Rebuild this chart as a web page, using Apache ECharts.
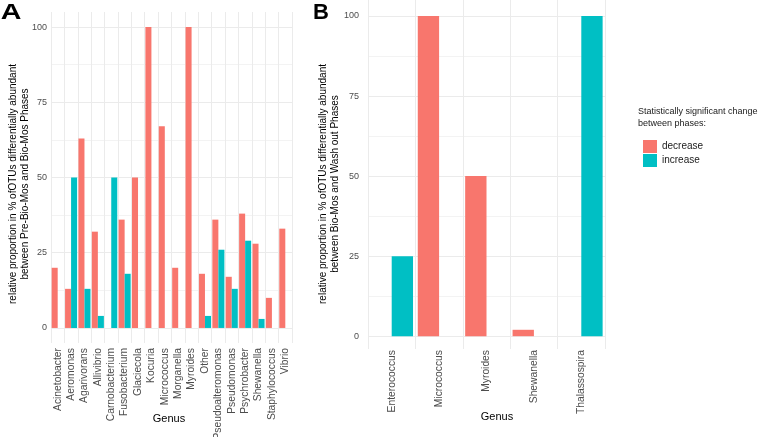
<!DOCTYPE html>
<html>
<head>
<meta charset="utf-8">
<script src="https://cdn.jsdelivr.net/npm/echarts@6/dist/echarts.min.js"></script>
<style>
  html, body { margin: 0; padding: 0; background: #fff; }
  #chart { width: 760px; height: 437px; }
</style>
</head>
<body>
<div id="chart"></div>
<script>
// panel A: Pre-Bio-Mos vs Bio-Mos
var genusA = ['Acinetobacter', 'Aeromonas', 'Agarivorans', 'Allivibrio', 'Carnobacterium', 'Fusobacterium',
  'Glaciecola', 'Kocuria', 'Micrococcus', 'Morganella', 'Myroides', 'Other', 'Pseudoalteromonas',
  'Pseudomonas', 'Psychrobacter', 'Shewanella', 'Staphylococcus', 'Vibrio'];
var decreaseA = [20, 13, 63, 32, '-', 36, 50, 100, 67, 20, 100, 18, 36, 17, 38, 28, 10, 33];
var increaseA = ['-', 50, 13, 4, 50, 18, '-', '-', '-', '-', '-', 4, 26, 13, 29, 3, '-', '-'];

// panel B: Bio-Mos vs Wash out
var genusB = ['Enterococcus', 'Micrococcus', 'Myroides', 'Shewanella', 'Thalassospira'];
var decreaseB = ['-', 100, 50, 2, '-'];
var increaseB = [25, '-', '-', '-', 100];

var yLabels = [0, 25, 50, 75, 100];
var yGrid = [0, 12.5, 25, 37.5, 50, 62.5, 75, 87.5, 100];

var font = 'Liberation Sans, Arial, sans-serif';
var grey = '#4D4D4D';
var colDec = '#F8766D';
var colInc = '#00BFC4';

var chartDom = document.getElementById('chart');
var myChart = echarts.init(chartDom);

function xAxisFor(idx, data, margin) {
    return {
        type: 'category',
        gridIndex: idx,
        data: data,
        axisLine: { show: false },
        axisTick: { show: false },
        axisLabel: { interval: 0, rotate: 90, fontFamily: font, fontSize: 10.3, color: grey, margin: margin },
        splitLine: { show: true, lineStyle: { color: '#EBEBEB', width: 1 } }
    };
}

function yAxisFor(idx, lo, margin) {
    return {
        type: 'value',
        gridIndex: idx,
        min: lo,
        max: 105,
        axisLine: { show: false },
        axisTick: { show: false, customValues: yGrid },
        axisLabel: { customValues: yLabels, fontFamily: font, fontSize: 9, color: grey, margin: margin },
        // major / minor lines alternate
        splitLine: { show: true, lineStyle: { color: ['#EBEBEB', '#F3F3F3'], width: 1 } }
    };
}

function barSeries(name, color, xi, data) {
    return {
        name: name,
        type: 'bar',
        xAxisIndex: xi,
        yAxisIndex: xi,
        data: data,
        barWidth: '45%',
        barGap: '0%',
        itemStyle: { color: color },
        emphasis: { disabled: true }
    };
}

function plainText(txt, x, y, size, opts) {
    return Object.assign({
        type: 'text',
        x: x,
        y: y,
        style: {
            text: txt,
            fontFamily: font,
            fontSize: size,
            fill: '#000',
            align: 'center',
            verticalAlign: 'middle',
            lineHeight: 12
        }
    }, opts || {});
}

var option = {
    animation: false,
    backgroundColor: '#fff',
    title: [{
        text: 'Statistically significant change\nbetween phases:',
        left: 633, top: 101,
        textStyle: { fontFamily: font, fontSize: 9, fontWeight: 'normal', color: '#1A1A1A', lineHeight: 12 }
    }],
    legend: {
        data: ['decrease', 'increase'],
        orient: 'vertical',
        left: 638,
        top: 135,
        icon: 'rect',
        itemWidth: 14,
        itemHeight: 13,
        itemGap: 1,
        selectedMode: false,
        textStyle: { fontFamily: font, fontSize: 10, color: '#1A1A1A' }
    },
    graphic: [
        { type: 'text', x: 11, y: 13, scaleX: 1.3, originX: 0, originY: 0,
          style: { text: 'A', fontFamily: font, fontSize: 22, fontWeight: 'bold', fill: '#000', align: 'center', verticalAlign: 'middle' } },
        { type: 'text', x: 321, y: 13,
          style: { text: 'B', fontFamily: font, fontSize: 22, fontWeight: 'bold', fill: '#000', align: 'center', verticalAlign: 'middle' } },
        plainText('Genus', 169, 419, 11),
        plainText('Genus', 497, 417, 11),
        plainText('relative proportion in % ofOTUs differentially abundant\nbetween Pre-Bio-Mos and Bio-Mos Phases', 19, 184, 10, { rotation: Math.PI / 2 }),
        plainText('relative proportion in % ofOTUs differentially abundant\nbetween Bio-Mos and Wash out Phases', 329, 184, 10, { rotation: Math.PI / 2 })
    ],
    grid: [
        { left: 51, right: 468, top: 12, bottom: 94, outerBoundsMode: 'none' },
        { left: 368, right: 155, top: 0, bottom: 88, outerBoundsMode: 'none' }
    ],
    xAxis: [xAxisFor(0, genusA, 5), xAxisFor(1, genusB, 1)],
    yAxis: [yAxisFor(0, -5, 4), yAxisFor(1, -4, 9)],
    series: [
        barSeries('decrease', colDec, 0, decreaseA),
        barSeries('increase', colInc, 0, increaseA),
        barSeries('decrease', colDec, 1, decreaseB),
        barSeries('increase', colInc, 1, increaseB)
    ]
};
option && myChart.setOption(option);
</script>
</body>
</html>
